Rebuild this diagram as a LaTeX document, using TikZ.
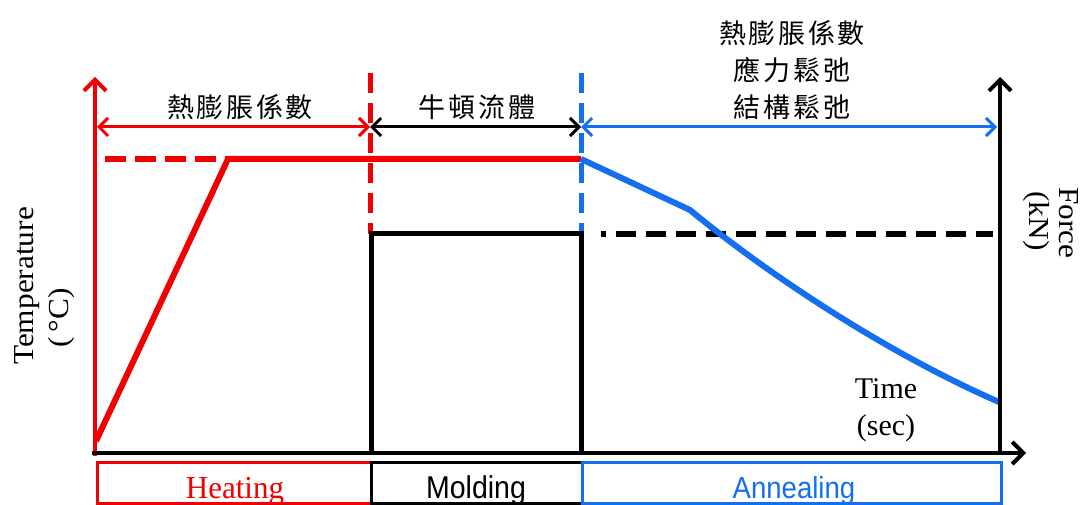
\documentclass[tikz,border=0pt]{standalone}
\usepackage{fontspec}
\setmainfont{Liberation Serif}
\newfontfamily\cjk[LetterSpace=10]{Noto Sans CJK TC}
\newfontfamily\arialf{Liberation Sans}
\usetikzlibrary{arrows.meta}
\definecolor{myred}{RGB}{240,0,0}
\definecolor{myblue}{RGB}{20,110,240}
\tikzset{
  axisline/.style={line width=4.5pt,-{Straight Barb[length=11pt,width=22pt,line width=4pt]}},
  spanarrow/.style={line width=3pt,{Straight Barb[length=9pt,width=18pt,line width=3pt]}-{Straight Barb[length=9pt,width=18pt,line width=3pt]}},
  vdash/.style={line width=5pt,dash pattern=on 20pt off 10pt},
  curveline/.style={line width=6pt},
  phasebox/.style={line width=3pt},
  cjklabel/.style={font=\cjk\fontsize{27}{37}\selectfont,align=center,inner sep=0pt},
  serifl/.style={font=\fontsize{30}{34}\selectfont,inner sep=0pt},
  phasetext/.style={inner sep=0pt,anchor=base}
}
\begin{document}
\begin{tikzpicture}[x=1pt,y=-1pt]
\useasboundingbox (0,0) rectangle (1087,505);
% key coordinates
\coordinate (O) at (95,456);
\coordinate (Ytop) at (95,77);
\coordinate (Xs) at (92,453);
\coordinate (Xend) at (1026,453);
\coordinate (Rb) at (1000,455);
\coordinate (Rt) at (1000,77);
\coordinate (A1) at (97,127);
\coordinate (A2) at (370,127);
\coordinate (A3) at (581,127);
\coordinate (A4) at (997,127);
\coordinate (D1t) at (370,73);
\coordinate (D1b) at (370,234);
\coordinate (D2t) at (581,73);
\coordinate (D2b) at (581,234);
\coordinate (M1) at (371,455);
\coordinate (M2) at (371,234);
\coordinate (M3) at (581,234);
\coordinate (M4) at (581,455);
\coordinate (H0) at (96,441);
\coordinate (H1) at (228,159);
\coordinate (H2) at (581,159);
\coordinate (Hd) at (105,159);
\coordinate (B1) at (690,210);
\coordinate (B2) at (999,402);
\coordinate (F1) at (601,234);
\coordinate (F2) at (993,234);

% dashed phase boundaries
\draw[myred,vdash] (D1t) -- (D1b);
\draw[myblue,vdash] (D2t) -- (D2b);
% molding force (black)
\draw[line width=5pt] (M1) -- (M2) -- (M3) -- (M4);
\draw[line width=6pt,dash pattern=on 20pt off 10pt,dash phase=15pt] (F1) -- (F2);
% temperature curve
\draw[myred,curveline,line join=miter] (H0) -- (H1) -- (H2);
\draw[myred,curveline,dash pattern=on 21pt off 9pt] (Hd) -- (H1);
% annealing curve
\draw[myblue,curveline,line join=round] (H2) -- (B1) .. controls (760,268) and (880,350) .. (B2);

% axes
\draw[myred,axisline] (O) -- (Ytop);
\draw[axisline] (Xs) -- (Xend);
\draw[axisline] (Rb) -- (Rt);

% span arrows
\draw[myred,spanarrow] (A1) -- (A2);
\draw[spanarrow] (A2) -- (A3);
\draw[myblue,spanarrow] (A3) -- (A4);

% span labels
\node[cjklabel] (L1) at (240,107) {熱膨脹係數};
\node[cjklabel] (L2) at (477,107) {牛頓流體};
\node[cjklabel] (L3) at (792,70) {熱膨脹係數\\應力鬆弛\\結構鬆弛};

% axis labels
\node[serifl,font=\fontsize{29}{34}\selectfont,rotate=90] (Tl) at (27,286) {\scalebox{1.08}[1]{Temperature}};
\node[serifl,font=\fontsize{29}{34}\selectfont,rotate=90] (Tu) at (62,318) {\scalebox{1.08}[1]{(\,°C)}};
\node[serifl,font=\fontsize{29}{34}\selectfont,rotate=-90] (Fl) at (1069,223) {\scalebox{1.08}[1]{Force}};
\node[serifl,font=\fontsize{29}{34}\selectfont,rotate=-90] (Fu) at (1036,221) {\scalebox{1.08}[1]{(kN)}};
\node[serifl] (Ti) at (886,389) {Time};
\node[serifl] (Ts) at (886,428) {(sec)};

% phase boxes
\draw[myred,phasebox] (97,462) rectangle (371,503);
\draw[phasebox] (371,462) rectangle (582,503);
\draw[myblue,phasebox] (582,462) rectangle (1001,503);
\node[phasetext,myred,font=\fontsize{32}{34}\selectfont] (P1) at (235,498) {\scalebox{0.97}[1]{Heating}};
\node[phasetext,font=\arialf\fontsize{30}{32}\selectfont] (P2) at (476,498) {\scalebox{0.95}[1.05]{Molding}};
\node[phasetext,myblue,font=\arialf\fontsize{29}{32}\selectfont] (P3) at (794,498) {\scalebox{0.95}[1.05]{Annealing}};
\end{tikzpicture}
\end{document}
